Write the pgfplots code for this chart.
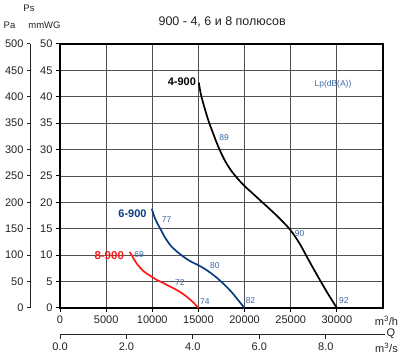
\documentclass[border=0pt]{standalone}
\usepackage{fontspec}
\setmainfont{Liberation Sans}
\usepackage{pgfplots}
\pgfplotsset{compat=1.18}
\definecolor{lblblue}{HTML}{3A66A6}
\definecolor{navy}{HTML}{0A3C82}
\definecolor{cred}{HTML}{FF1A1A}
\definecolor{gridc}{HTML}{505050}
\definecolor{txt}{HTML}{222222}
\begin{document}
\begin{tikzpicture}[x=1pt,y=1pt]
\pgfplotsset{every tick label/.append style={font=\fontsize{11}{13}\selectfont, text=txt},
  /pgf/number format/assume math mode=true, /pgf/number format/1000 sep={}}
% Pa axis
\begin{axis}[at={(30.5pt,48pt)}, anchor=south west, scale only axis, width=10pt, height=264pt,
  ymin=0, ymax=500, xmin=0, xmax=1, hide x axis, axis y line*=left,
  ytick={0,50,...,500}, tick align=outside, major tick length=3.5pt,
  axis line style={line width=1pt, txt}, every tick/.style={line width=1pt, txt}]
\addplot[draw=none] coordinates {(0,0)};
\end{axis}
% main axis
\begin{axis}[at={(60pt,48pt)}, anchor=south west, scale only axis, width=323pt, height=264pt,
  xmin=0, xmax=35000, ymin=0, ymax=50,
  xtick={0,5000,...,30000}, ytick={0,5,...,50}, scaled x ticks=false,
  grid=major, grid style={gridc, line width=0.8pt},
  tick pos=left, tick align=outside, major tick length=4pt,
  every tick/.style={line width=1pt, black},
  axis line style={line width=1.3pt, black}, clip=false]
\addplot[black, line width=1.7pt, smooth] coordinates {(15040,42.7)(15250,40.6)(15500,38.9)(15800,37.1)(16100,35.4)(16500,33.5)(17000,31.2)(17500,29.2)(18000,27.5)(18600,25.9)(19300,24.4)(20000,23.1)(21000,21.5)(22000,19.9)(23000,18.3)(24000,16.6)(25000,14.7)(26000,12.1)(27000,8.9)(28000,5.8)(29000,2.8)(30000,0)};
\addplot[navy, line width=1.7pt, smooth] coordinates {(9950,18.8)(10200,17.4)(10500,16.2)(10900,14.9)(11400,13.3)(12000,11.8)(12600,10.8)(13200,9.95)(13800,9.2)(14400,8.6)(15000,8.1)(15600,7.5)(16200,6.8)(16800,6.0)(17400,5.1)(18000,4.1)(18600,3.0)(19300,1.5)(20000,0)};
\addplot[cred, line width=1.7pt, smooth] coordinates {(7550,10.6)(7800,9.9)(8100,9.0)(8400,8.2)(8700,7.6)(9100,6.9)(9500,6.4)(10000,5.85)(10500,5.3)(11000,4.9)(11500,4.45)(12000,4.0)(12500,3.55)(13000,3.05)(13500,2.45)(14000,1.75)(14500,0.95)(15000,0)};
\node[anchor=east, font=\fontsize{11}{13}\selectfont\bfseries, inner sep=0pt] at (axis cs:14750,42.8) {4-900};
\node[anchor=east, font=\fontsize{11}{13}\selectfont\bfseries, text=navy, inner sep=0pt] at (axis cs:9400,17.9) {6-900};
\node[anchor=east, font=\fontsize{11.5}{13}\selectfont\bfseries, text=cred, inner sep=0pt] at (axis cs:6950,10.0) {8-900};
\begin{scope}[every node/.style={font=\fontsize{8.5}{10}\selectfont, text=lblblue, inner sep=0pt}]
\node at (axis cs:17780,32.3) {89};
\node at (axis cs:25970,14.1) {90};
\node at (axis cs:30770,1.5) {92};
\node at (axis cs:11550,16.7) {77};
\node at (axis cs:16770,8.1) {80};
\node at (axis cs:20640,1.4) {82};
\node at (axis cs:8580,10.2) {69};
\node at (axis cs:12990,4.9) {72};
\node at (axis cs:15690,1.3) {74};
\node[font=\fontsize{8.5}{10}\selectfont] at (axis cs:29580,42.4) {Lp(dB(A))};
\end{scope}
\end{axis}
% m3/s axis
\begin{axis}[at={(60pt,21pt)}, anchor=south west, scale only axis, width=325pt, height=10pt,
  xmin=0, xmax=9.7823, ymin=0, ymax=1, hide y axis, axis x line*=bottom,
  xtick={0,2,4,6,8}, tick align=outside, major tick length=4pt,
  xticklabel style={/pgf/number format/.cd, fixed, fixed zerofill, precision=1},
  axis line style={line width=1pt, txt}, every tick/.style={line width=1pt, txt}]
\addplot[draw=none] coordinates {(0,0)};
\end{axis}
\begin{scope}[every node/.style={text=txt, inner sep=0pt}]
\node[font=\fontsize{12.5}{14}\selectfont] at (222.2pt,334pt) {900 - 4, 6 и 8 полюсов};
\node[font=\fontsize{9.5}{11}\selectfont] at (29pt,348pt) {Ps};
\node[font=\fontsize{9.5}{11}\selectfont] at (9.5pt,331pt) {Pa};
\node[font=\fontsize{9.5}{11}\selectfont] at (44.5pt,331pt) {mmWG};
\node[font=\fontsize{11}{13}\selectfont] at (386.5pt,35pt) {m\textsuperscript{3}/h};
\node[font=\fontsize{11}{13}\selectfont] at (391pt,22pt) {Q};
\node[font=\fontsize{11}{13}\selectfont] at (386.5pt,8pt) {m\textsuperscript{3}/s};
\end{scope}
\pgfresetboundingbox
\path[use as bounding box] (0pt,0pt) rectangle (400pt,356pt);
\end{tikzpicture}
\end{document}
